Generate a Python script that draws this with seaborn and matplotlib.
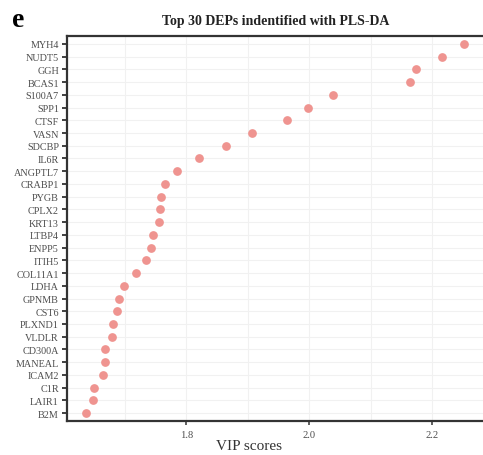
import matplotlib
matplotlib.use("Agg")
import matplotlib.pyplot as plt
import seaborn as sns
import pandas as pd
from matplotlib.ticker import MultipleLocator

proteins = ["MYH4", "NUDT5", "GGH", "BCAS1", "S100A7", "SPP1", "CTSF", "VASN",
            "SDCBP", "IL6R", "ANGPTL7", "CRABP1", "PYGB", "CPLX2", "KRT13",
            "LTBP4", "ENPP5", "ITIH5", "COL11A1", "LDHA", "GPNMB", "CST6",
            "PLXND1", "VLDLR", "CD300A", "MANEAL", "ICAM2", "C1R", "LAIR1", "B2M"]
vip_scores = [2.251, 2.215, 2.174, 2.163, 2.039, 1.997, 1.963, 1.906,
              1.864, 1.821, 1.785, 1.765, 1.759, 1.757, 1.755,
              1.745, 1.742, 1.734, 1.718, 1.698, 1.690, 1.688,
              1.681, 1.679, 1.668, 1.668, 1.665, 1.650, 1.648, 1.637]
x_ticks = [1.8, 2.0, 2.2]

df = pd.DataFrame({"protein": proteins, "vip": vip_scores})

sns.set_theme(style="white")
plt.rcParams["font.family"] = ["Liberation Serif", "DejaVu Serif"]

W, H = 483, 456
fig = plt.figure(figsize=(W / 100, H / 100), dpi=100)
ax = fig.add_axes([67 / W, 1 - 421.7 / H, 1 - 67 / W + 0.01, (421.7 - 37.3) / H])

sns.stripplot(data=df, x="vip", y="protein", order=proteins, jitter=False,
              color="#EF9490", size=6.3, linewidth=0, ax=ax, zorder=3)

ax.set_xlim(1.606, 2.29)
ax.set_ylim(len(proteins) - 1 + 0.6, -0.6)
ax.set_xticks(x_ticks)
ax.set_xticklabels([f"{t:.1f}" for t in x_ticks])
ax.xaxis.set_minor_locator(MultipleLocator(0.1))

grid_c = "#F1F1F1"
ax.grid(True, which="major", axis="both", color=grid_c, linewidth=0.8, zorder=0)
ax.grid(True, which="minor", axis="x", color=grid_c, linewidth=0.8, zorder=0)
ax.set_axisbelow(True)

spine_c = "#333333"
for s in ["left", "bottom", "top"]:
    ax.spines[s].set_visible(True)
    ax.spines[s].set_color(spine_c)
    ax.spines[s].set_linewidth(1.6)
ax.spines["right"].set_visible(False)

ax.tick_params(axis="y", which="major", length=3.6, width=1.3, color=spine_c,
               labelsize=7.3, labelcolor="#4D4D4D", pad=2.2, direction="out", left=True)
ax.tick_params(axis="x", which="major", length=3.0, width=1.1, color=spine_c,
               labelsize=7.6, labelcolor="#4D4D4D", pad=3.5, direction="out", bottom=True)
ax.tick_params(axis="x", which="minor", length=0)

ax.set_ylabel("")
ax.set_xlabel("")
fig.text(249 / W, 1 - 447 / H, "VIP scores", ha="center", va="center",
         fontsize=11, color="#333333")

fig.text(276 / W, 1 - 25 / H, "Top 30 DEPs indentified with PLS-DA",
         ha="center", va="baseline", fontsize=10, fontweight="bold", color="#222222")
fig.text(12 / W, 1 - 27 / H, "e", ha="left", va="baseline", fontsize=20,
         fontweight="bold", color="black")

fig.savefig("out.png", dpi=100)
